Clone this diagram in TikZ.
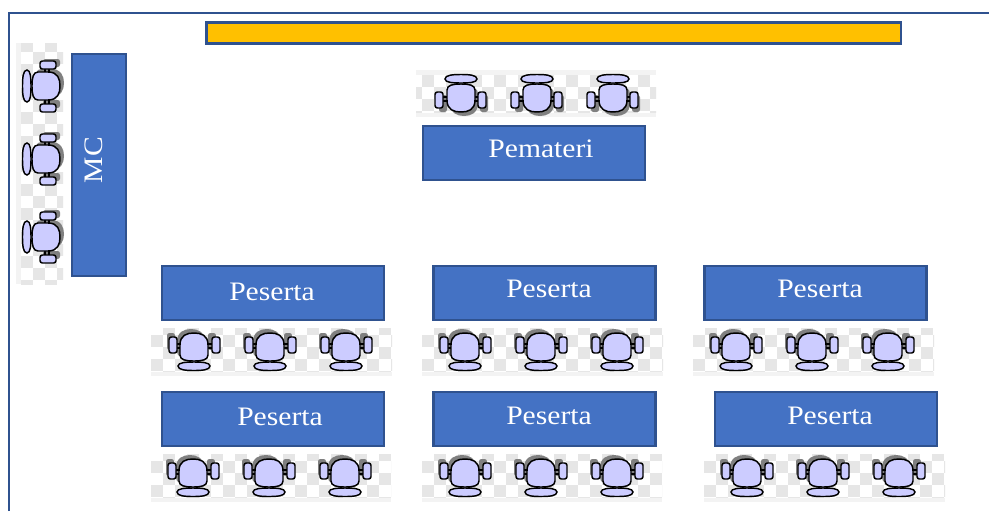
\documentclass[tikz,border=0pt]{standalone}
\usepackage{fontspec}
\setmainfont[FakeStretch=1.11]{Liberation Serif}
\definecolor{boxfill}{HTML}{4472C4}
\definecolor{boxline}{HTML}{2F528F}
\definecolor{barfill}{HTML}{FFC000}
\definecolor{seatfill}{HTML}{CCCCFF}
\definecolor{checkgrey}{HTML}{E6E6E6}
\definecolor{stripgrey}{HTML}{F3F3F3}
\definecolor{shadowgrey}{HTML}{808080}
% outer x0 y0 x1 y1, inner x0 y0 x1 y1, grid origin x y (a grey tile sits at the origin)
\newcommand{\checkerboard}[6]{%
  \fill[stripgrey] (#1,#2) rectangle (#3,#4);
  \begin{scope}
  \clip #5;
  \fill[white] (#1,#2) rectangle (#3,#4);
  \foreach \ci in {-1,...,22}{\foreach \cj in {-1,...,22}{
    \pgfmathparse{int(mod(\ci+\cj+100,2))}
    \ifnum\pgfmathresult=0
      \pgfmathsetmacro{\tx}{\ci*12}
      \pgfmathsetmacro{\ty}{\cj*12}
      \fill[checkgrey,shift={#6}] (\tx,\ty) rectangle ++(12,12);
    \fi}}
  \end{scope}}
\tikzset{
  x=0.75pt,y=-0.75pt,
  hall/.style={draw=boxline,line width=2pt,fill=boxfill,minimum width=166.5pt,minimum height=40.5pt,inner sep=0pt},
  lbl/.style={text=white,inner sep=0pt,font=\fontsize{20}{20}\selectfont},
  chairline/.style={draw=black,line width=1.1pt,fill=seatfill},
  chairshadow/.style={fill=shadowgrey,draw=none},
  chair/.pic={
    \begin{scope}[shift={(-3,-3)}]
      \fill[chairshadow] (-14,-4) .. controls (-14,-14) and (-7,-17) .. (0,-17) .. controls (7,-17) and (14,-14) .. (14,-4) -- (14,6) .. controls (14,11) and (8,12) .. (0,12) .. controls (-8,12) and (-14,11) .. (-14,6) -- cycle;
      \fill[chairshadow,rounded corners=1.8pt] (-24,-13) rectangle (-16,4);
      \fill[chairshadow,rounded corners=1.8pt] (17,-13) rectangle (25,4);
    \end{scope}
    \draw[black,line width=0.8pt] (-17,-5) -- (-14,-5) (-17,-1) -- (-14,-1) (14,-5) -- (18,-5) (14,-1) -- (18,-1);
    \draw[black,line width=0.8pt] (-4,11) -- (-4,14) (4,11) -- (4,14);
    \draw[chairline] (-14,-4) .. controls (-14,-14) and (-7,-16) .. (0,-16) .. controls (7,-16) and (14,-14) .. (14,-4) -- (14,6) .. controls (14,11) and (8,12) .. (0,12) .. controls (-8,12) and (-14,11) .. (-14,6) -- cycle;
    \draw[chairline,rounded corners=1.8pt] (-25,-12) rectangle (-17,4);
    \draw[chairline,rounded corners=1.8pt] (18,-12) rectangle (26,4);
    \draw[chairline] (-16,17) .. controls (-16,13.5) and (-8,13) .. (0,13) .. controls (8,13) and (16,13.5) .. (16,17) .. controls (16,21) and (8,21.5) .. (0,21.5) .. controls (-8,21.5) and (-16,21) .. (-16,17) -- cycle;
  }
}
\begin{document}
\begin{tikzpicture}
\useasboundingbox (0,0) rectangle (989,511);
\fill[white] (0,0) rectangle (989,511);
% checker backgrounds
\checkerboard{416}{70}{656}{117}{(416,75) rectangle (656,112)}{(422,75)}
\checkerboard{16}{43}{63}{284}{(21,43) rectangle (63,284)}{(21,40)}
\checkerboard{151}{328}{392}{376}{(151,328) rectangle (392,371)}{(151,335)}
\checkerboard{422}{328}{663}{376}{(422,328) rectangle (663,371)}{(422,335)}
\checkerboard{693}{328}{934}{376}{(693,328) rectangle (934,371)}{(693,335)}
\checkerboard{151}{454}{391}{502}{(151,454) rectangle (391,497)}{(151,461)}
\checkerboard{422}{454}{662}{502}{(422,454) rectangle (662,497)}{(422,461)}
\checkerboard{704}{454}{945}{502}{(704,454) rectangle (945,497)}{(704,461)}
% room frame
\draw[boxline,line width=2.2pt] (9,511) -- (9,13) -- (989,13);
% stage bar
\node[draw=boxline,line width=2pt,fill=barfill,minimum width=521pt,minimum height=16pt,inner sep=0pt] (bar) at (553.5,33) {};
% tables
\node[hall] (pem) at (534,153) {};
\node[lbl] (pemt) at (541,149) {Pemateri};
\node[draw=boxline,line width=2pt,fill=boxfill,minimum width=40.5pt,minimum height=166.5pt,inner sep=0pt] (mc) at (99,165) {};
\node[lbl,rotate=90] (mct) at (94,160) {MC};
\node[hall] (p1) at (273,293) {};
\node[lbl] (p1t) at (272,292) {Peserta};
\node[hall] (p2) at (544.5,293) {};
\node[lbl] (p2t) at (549,289) {Peserta};
\node[hall] (p3) at (815.5,293) {};
\node[lbl] (p3t) at (820,289) {Peserta};
\node[hall] (p4) at (273,419) {};
\node[lbl] (p4t) at (280,417) {Peserta};
\node[hall] (p5) at (544.5,419) {};
\node[lbl] (p5t) at (549,416) {Peserta};
\node[hall] (p6) at (826,419) {};
\node[lbl] (p6t) at (830,416) {Peserta};
% chairs
\foreach \cx in {461,537,613} \pic[rotate=180] at (\cx,96) {chair};
\foreach \cy in {86,159,237} \pic[rotate=-90] at (44,\cy) {chair};
\foreach \cx in {194,270,346,465,541,617,736,812,888} \pic at (\cx,349) {chair};
\foreach \cx in {193,269,345,465,541,617,747,823,899} \pic at (\cx,475) {chair};
\end{tikzpicture}
\end{document}
